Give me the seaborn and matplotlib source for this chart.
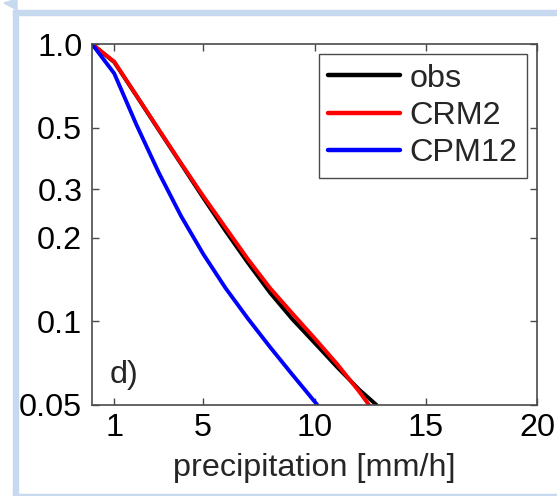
import numpy as np
import pandas as pd
import matplotlib
matplotlib.use("Agg")
import matplotlib.pyplot as plt
import seaborn as sns
from matplotlib.patches import Rectangle, Polygon
from matplotlib.ticker import NullLocator, FixedLocator, FixedFormatter

# ---- data ----
series_names = ["obs", "CRM2", "CPM12"]
obs_x = [0, 1, 2, 3, 4, 5, 6, 7, 8, 9, 10, 11, 12, 12.79]
obs_y = [1.0, 0.86, 0.65, 0.49, 0.37, 0.279, 0.212, 0.163, 0.127, 0.102, 0.0838, 0.0687, 0.0569, 0.05]
crm2_x = [0, 1, 2, 3, 4, 5, 6, 7, 8, 9, 10, 11, 12, 12.45]
crm2_y = [1.0, 0.863, 0.652, 0.492, 0.372, 0.283, 0.218, 0.168, 0.132, 0.107, 0.0871, 0.0705, 0.0560, 0.05]
cpm12_x = [0, 1, 2, 3, 4, 5, 6, 7, 8, 9, 10, 10.13]
cpm12_y = [1.0, 0.783, 0.511, 0.344, 0.240, 0.175, 0.132, 0.1026, 0.0809, 0.0644, 0.0515, 0.05]
colors = ["black", "red", "blue"]

x_ticks = [1, 5, 10, 15, 20]
x_ticklabels = ["1", "5", "10", "15", "20"]
y_ticks = [0.05, 0.1, 0.2, 0.3, 0.5, 1.0]
y_ticklabels = ["0.05", "0.1", "0.2", "0.3", "0.5", "1.0"]
x_label = "precipitation [mm/h]"
panel_label = "d)"

frames = []
for name, xs, ys in zip(series_names, [obs_x, crm2_x, cpm12_x], [obs_y, crm2_y, cpm12_y]):
    frames.append(pd.DataFrame({"x": xs, "y": ys, "series": name}))
df = pd.concat(frames, ignore_index=True)

sns.set_style("ticks")
plt.rcParams["font.family"] = ["Liberation Sans", "DejaVu Sans"]

FS = 23.3
W, H = 557, 496
fig = plt.figure(figsize=(W / 100, H / 100), dpi=100)
fig.patch.set_facecolor("white")

ax = fig.add_axes([92 / W, 1 - 405 / H, (537 - 92) / W, (405 - 44) / H])

sns.lineplot(data=df, x="x", y="y", hue="series", hue_order=series_names,
             palette=dict(zip(series_names, colors)), estimator=None, sort=False,
             linewidth=2.8, ax=ax)

ax.set_yscale("log")
ax.set_xlim(0, 20)
ax.set_ylim(0.05, 1.0)
ax.xaxis.set_major_locator(FixedLocator(x_ticks))
ax.xaxis.set_major_formatter(FixedFormatter(x_ticklabels))
ax.yaxis.set_major_locator(FixedLocator(y_ticks))
ax.yaxis.set_major_formatter(FixedFormatter(y_ticklabels))
ax.yaxis.set_minor_locator(NullLocator())
ax.xaxis.set_minor_locator(NullLocator())

spine_col = "#4a4a4a"
for s in ax.spines.values():
    s.set_color(spine_col)
    s.set_linewidth(1.2)
ax.tick_params(direction="in", top=True, right=True, length=5, width=1,
               color=spine_col, labelsize=FS, labelcolor="black")
ax.tick_params(axis="y", pad=7)
ax.tick_params(axis="x", pad=6)

ax.set_xlabel(x_label, fontsize=FS, labelpad=7)
ax.set_ylabel("")

ax.text(0.04, 0.06, panel_label, transform=ax.transAxes, fontsize=FS,
        ha="left", va="baseline")

leg = ax.legend(loc="upper right", fontsize=FS, frameon=True, fancybox=False,
                framealpha=1, edgecolor=spine_col, borderaxespad=0.31,
                handlelength=2.2, handletextpad=0.3, labelspacing=0.22,
                borderpad=0.3)
leg.get_frame().set_linewidth(1.0)
for line in leg.get_lines():
    line.set_linewidth(3.2)

# ---- light blue surrounding frame ----
bc = "#c6d9ee"
def px(x, y):
    return (x / W, 1 - y / H)
fig.add_artist(Rectangle(px(13, 496), 5 / W, (496 - 10) / H, transform=fig.transFigure,
                         color=bc, zorder=0))
fig.add_artist(Rectangle(px(13, 15), 1 - 13 / W, 5 / H, transform=fig.transFigure,
                         color=bc, zorder=0))
fig.add_artist(Rectangle(px(13, 496), 1 - 13 / W, 2 / H, transform=fig.transFigure,
                         color=bc, zorder=0))
fig.add_artist(Polygon([px(4, 3), px(17, -1), px(17, 10)], closed=True,
                       transform=fig.transFigure, color=bc, zorder=0))

fig.savefig("out.png", dpi=100, facecolor="white")
